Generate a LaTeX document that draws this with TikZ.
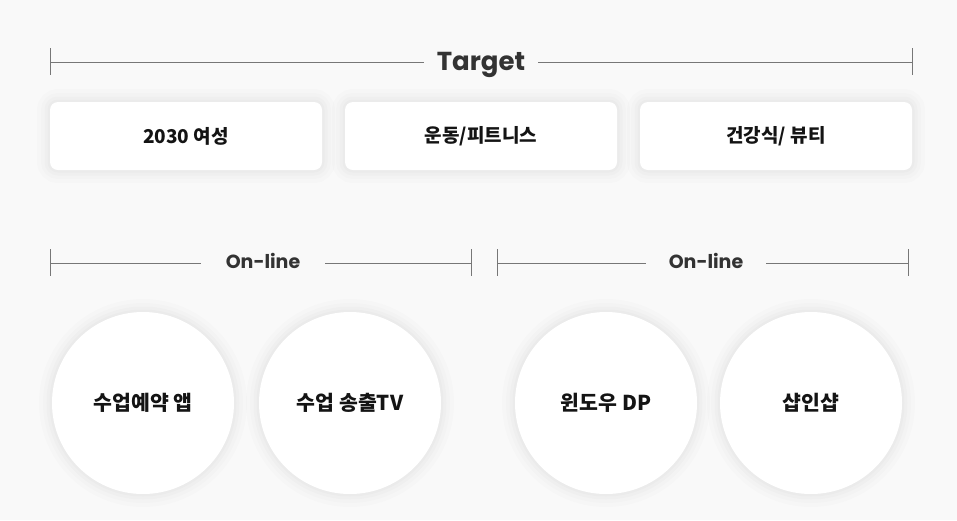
\documentclass[tikz,border=0pt]{standalone}
\usepackage{fontspec}
\usepackage{tikz}
\usetikzlibrary{positioning}
\newfontfamily\kofont{Noto Sans CJK KR}
\newfontfamily\popfont{Poppins}
\definecolor{bgcol}{HTML}{F9F9F9}
\definecolor{rulecol}{HTML}{777777}
\definecolor{inkcol}{HTML}{141414}
\definecolor{headcol}{HTML}{333333}

\begin{document}
\begin{tikzpicture}[x=1pt,y=-1pt,
  rulel/.style={draw=rulecol,line width=0.9pt},
  headl/.style={font=\popfont\bfseries\fontsize{19}{21}\selectfont,text=headcol,inner sep=0pt},
  halo/.style={preaction={draw=black,draw opacity=0.01,line width=26pt},
    preaction={draw=black,draw opacity=0.012,line width=18pt},
    preaction={draw=black,draw opacity=0.014,line width=11pt},
    preaction={draw=black,draw opacity=0.014,line width=5pt}},
  tagbox/.style={halo,fill=white,rounded corners=8pt,minimum width=272pt,minimum height=68pt,
    font=\kofont\bfseries\fontsize{19}{21}\selectfont,text=inkcol},
  chan/.style={halo,circle,fill=white,minimum size=182pt,inner sep=0pt,
    font=\kofont\bfseries\fontsize{20.5}{22}\selectfont,text=inkcol}]
\fill[bgcol] (0,0) rectangle (957,520);
\useasboundingbox (0,0) rectangle (957,520);
% target bracket
\node[headl,font=\popfont\bfseries\fontsize{26}{28}\selectfont,minimum width=114pt] (target) at (481,65) {Target};
\coordinate (tl) at (50,62);
\coordinate (tr) at (912,62);
\draw[rulel] (tl) -- (tl -| target.west);
\draw[rulel] (tr -| target.east) -- (tr);
\foreach \xx in {50,912} {\draw[rulel] (\xx,48) -- (\xx,75);}
% target boxes
\node[tagbox] (t1) at (186,136) {2030 여성};
\node[tagbox] (t2) at (481,136) {운동/피트니스};
\node[tagbox] (t3) at (776,136) {건강식/ 뷰티};
% online brackets
\node[headl,minimum width=124pt] (onA) at (263,261) {On-line};
\node[headl,minimum width=120pt] (onB) at (706,261) {On-line};
\coordinate (al) at (50,263);
\coordinate (ar) at (471,263);
\coordinate (bl) at (497,263);
\coordinate (br) at (908,263);
\draw[rulel] (al) -- (al -| onA.west);
\draw[rulel] (ar -| onA.east) -- (ar);
\draw[rulel] (bl) -- (bl -| onB.west);
\draw[rulel] (br -| onB.east) -- (br);
\foreach \xx in {50,471,497,908} {\draw[rulel] (\xx,249) -- (\xx,276);}
% channels
\node[chan] (c1) at (143,403) {수업예약 앱};
\node[chan] (c2) at (350,403) {수업 송출TV};
\node[chan] (c3) at (606,403) {윈도우 DP};
\node[chan] (c4) at (811,403) {샵인샵};
\end{tikzpicture}
\end{document}
